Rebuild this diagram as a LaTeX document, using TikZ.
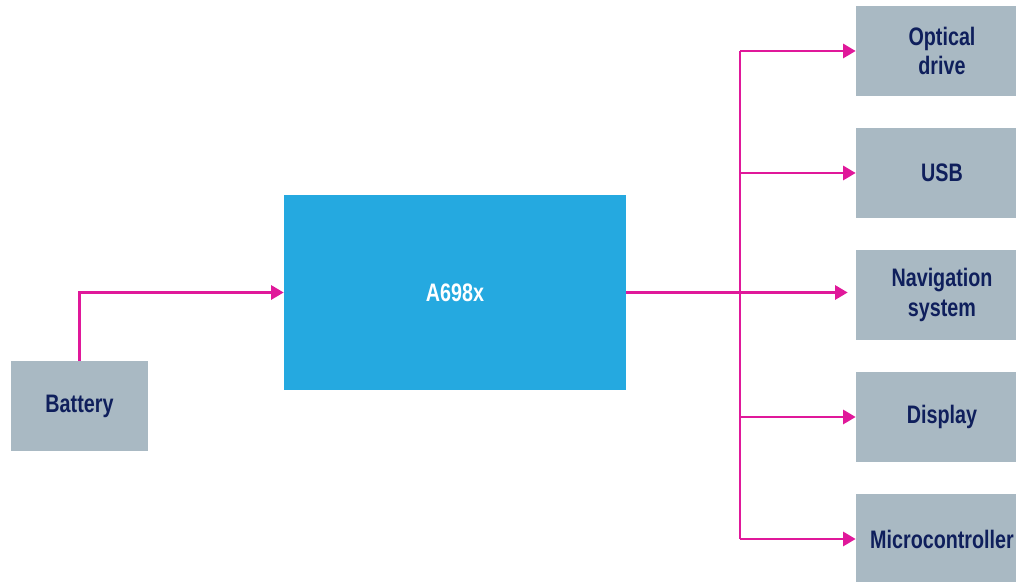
\documentclass[tikz,border=0pt]{standalone}
\usepackage{fontspec}
\setmainfont{Liberation Sans}[FakeStretch=0.78]
\usetikzlibrary{arrows.meta}

\definecolor{boxgray}{HTML}{A9B9C3}
\definecolor{chipblue}{HTML}{25A9E0}
\definecolor{linkpink}{HTML}{E0189A}
\definecolor{textnavy}{HTML}{0F1F5C}

\begin{document}
\begin{tikzpicture}[
    block/.style={fill=boxgray, text=textnavy, minimum width=4.3cm, minimum height=2.25cm, align=center, font=\fontsize{18}{21}\selectfont\bfseries, inner sep=0pt},
    link/.style={draw=linkpink, line width=2pt},
    arr/.style={link, -{Triangle[length=9pt,width=10pt]}}
]

\useasboundingbox (0,0) rectangle (25.4,14.55);

% Blocks
\node[block, minimum width=3.425cm] (bat) at (1.9875,4.4) {Battery};
\node[block, fill=chipblue, text=white, minimum width=8.55cm, minimum height=4.875cm] (chip) at (11.375,7.2375) {A698x};

\node[block] (opt) at (23.55,13.275) {Optical\\drive};
\node[block] (usb) at (23.55,10.225) {USB};
\node[block] (nav) at (23.55,7.175) {Navigation\\system};
\node[block] (disp) at (23.55,4.125) {Display};
\node[block] (mcu) at (23.55,1.075) {Microcontroller};

% Connections
\coordinate (bus) at (18.5,0);
\draw[arr] (bat.north) |- (chip.west);
\draw[arr, shorten >=0.2cm] (chip.east) -- (chip.east -| nav.west);
\draw[link] (bus |- opt.west) -- (bus |- mcu.west);
\foreach \n in {opt,usb,disp,mcu}
    \draw[arr] (bus |- \n.west) -- (\n.west);

\end{tikzpicture}
\end{document}
